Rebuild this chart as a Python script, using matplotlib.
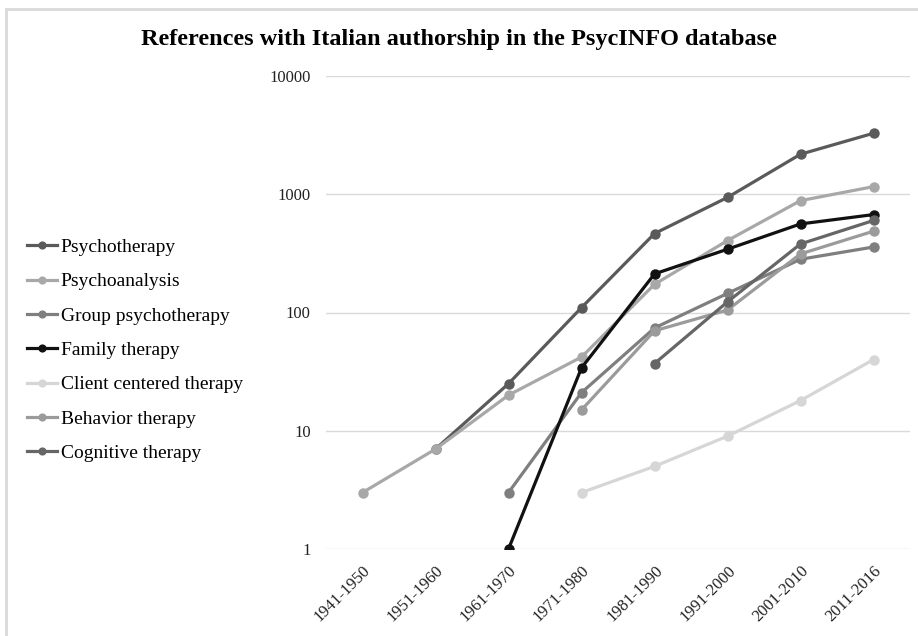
import numpy as np
import matplotlib
matplotlib.use('Agg')
import matplotlib.pyplot as plt
from matplotlib.patches import Rectangle

# Data (NaN = no point)
periods = ['1941-1950', '1951-1960', '1961-1970', '1971-1980',
           '1981-1990', '1991-2000', '2001-2010', '2011-2016']
nan = np.nan
psychotherapy = [nan, 7, 25, 110, 465, 940, 2180, 3280]
psychoanalysis = [3, 7, 20, 42, 173, 406, 883, 1160]
group_psychotherapy = [nan, nan, 3, 21, 74, 145, 282, 358]
family_therapy = [nan, nan, 1, 34, 212, 343, 561, 673]
client_centered = [nan, nan, nan, 3, 5, 9, 18, 40]
behavior_therapy = [nan, nan, nan, 15, 70, 105, 313, 487]
cognitive_therapy = [nan, nan, nan, nan, 37, 123, 380, 600]

series = [
    ('Psychotherapy', psychotherapy, '#5a5a5a'),
    ('Psychoanalysis', psychoanalysis, '#a8a8a8'),
    ('Group psychotherapy', group_psychotherapy, '#7f7f7f'),
    ('Family therapy', family_therapy, '#111111'),
    ('Client centered therapy', client_centered, '#d6d6d6'),
    ('Behavior therapy', behavior_therapy, '#9b9b9b'),
    ('Cognitive therapy', cognitive_therapy, '#666666'),
]

plt.rcParams['font.family'] = ['Liberation Serif', 'DejaVu Serif']

fig = plt.figure(figsize=(9.18, 6.36), dpi=100)
# light frame around the chart
fig.patches.append(Rectangle((6 / 918, -0.1), 1.2, (636 - 9) / 636 + 0.1,
                             transform=fig.transFigure, fill=False,
                             edgecolor='#d9d9d9', linewidth=2))

ax = fig.add_axes([326 / 918, 1 - 549 / 636, 584 / 918, (549 - 76) / 636])
x = np.arange(len(periods))
for name, vals, col in series:
    ax.plot(x, vals, color=col, lw=2.3, marker='o', markersize=6.5, label=name)

ax.set_yscale('log')
ax.set_ylim(1, 10000)
ax.set_xlim(-0.5, len(periods) - 0.5)
ax.set_yticks([1, 10, 100, 1000, 10000])
ax.set_yticklabels(['1', '10', '100', '1000', '10000'])
ax.minorticks_off()
ax.yaxis.grid(True, color='#d9d9d9', lw=1)
ax.set_axisbelow(True)
for s in ax.spines.values():
    s.set_visible(False)
ax.tick_params(axis='both', length=0, labelsize=12, colors='#222222')
ax.tick_params(axis='y', pad=11)
ax.tick_params(axis='x', pad=10)
ax.set_xticks(x)
ax.set_xticklabels(periods, rotation=45, ha='right', va='top', rotation_mode='anchor')

fig.text(0.5, 1 - 40 / 636, 'References with Italian authorship in the PsycINFO database',
         ha='center', va='center', fontsize=17.5, fontweight='bold')

handles, labels = ax.get_legend_handles_labels()
fig.legend(handles, labels, loc='upper left', bbox_to_anchor=(9 / 918, 1 - 221 / 636),
           frameon=False, fontsize=14, handlelength=1.55, handletextpad=0.2,
           labelspacing=0.86, markerscale=0.75)

fig.savefig('out.png', dpi=100)
